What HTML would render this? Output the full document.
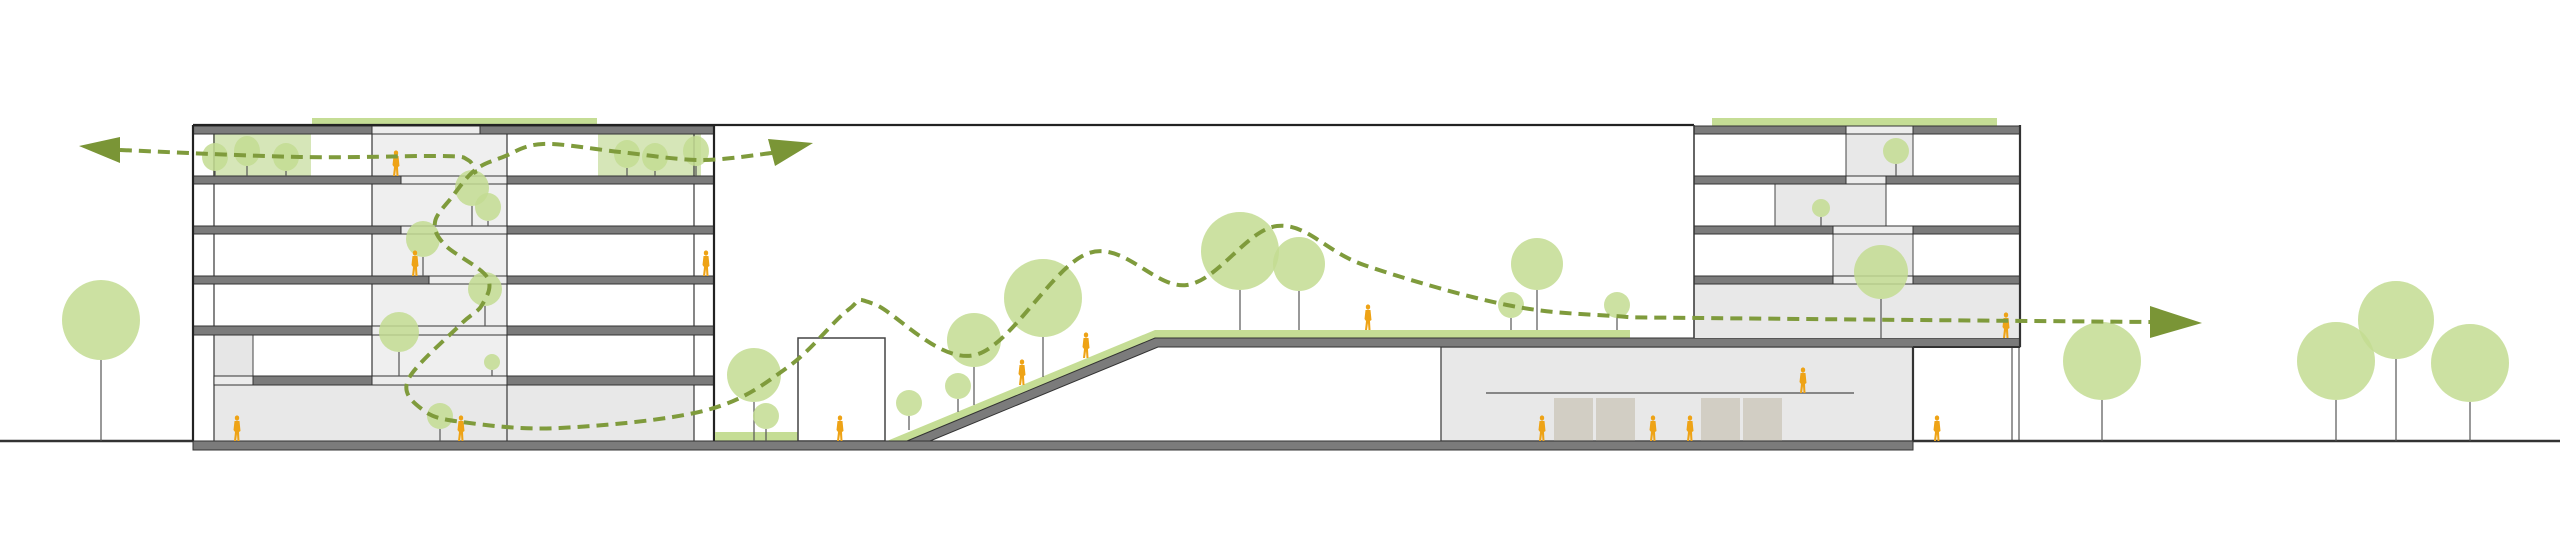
<!DOCTYPE html>
<html><head><meta charset="utf-8"><style>
html,body{margin:0;padding:0;background:#fff;width:2560px;height:557px;overflow:hidden}
svg{display:block}
</style></head><body>
<svg id="s" width="2560" height="557" viewBox="0 0 2560 557" xmlns="http://www.w3.org/2000/svg">
<defs>
<g id="p"><ellipse cx="0" cy="-23" rx="2.2" ry="2.6"/><path d="M-2.5,-20 L2.5,-20 L3.5,-10 L2,-9 L2.5,0 L0.5,0 L0,-7 L-1,0 L-3,0 L-2,-9 L-3.5,-11 Z"/></g>
</defs>
<g stroke="#333" stroke-width="2.5">
<line x1="0" y1="441" x2="193" y2="441"/>
<line x1="1913" y1="441" x2="2560" y2="441"/>
</g>
<rect x="312" y="118" width="285" height="8" fill="#c5dd95"/>
<rect x="372" y="134" width="135" height="251" fill="#efefef"/>
<rect x="214" y="385" width="480" height="56" fill="#e8e8e8"/>
<rect x="214" y="335" width="39" height="41" fill="#e6e6e6" stroke="#444" stroke-width="1"/>
<rect x="213" y="134" width="98" height="42" fill="#d6e6b8"/>
<rect x="598" y="134" width="103" height="42" fill="#d6e6b8"/>
<g stroke="#444" stroke-width="1.3" fill="none">
<line x1="214" y1="134" x2="214" y2="441"/><line x1="694" y1="134" x2="694" y2="441"/>
<line x1="372" y1="134" x2="372" y2="385"/><line x1="507" y1="134" x2="507" y2="441"/>
</g>
<g stroke="#333" stroke-width="1">
<rect x="193" y="126" width="179" height="8" fill="#7b7b7b"/><rect x="372" y="126" width="108" height="8" fill="#ececec"/><rect x="480" y="126" width="234" height="8" fill="#7b7b7b"/>
<rect x="193" y="176" width="208" height="8" fill="#7b7b7b"/><rect x="401" y="176" width="106" height="8" fill="#ececec"/><rect x="507" y="176" width="207" height="8" fill="#7b7b7b"/>
<rect x="193" y="226" width="208" height="8" fill="#7b7b7b"/><rect x="401" y="226" width="106" height="8" fill="#ececec"/><rect x="507" y="226" width="207" height="8" fill="#7b7b7b"/>
<rect x="193" y="276" width="236" height="8" fill="#7b7b7b"/><rect x="429" y="276" width="78" height="8" fill="#ececec"/><rect x="507" y="276" width="207" height="8" fill="#7b7b7b"/>
<rect x="193" y="326" width="179" height="9" fill="#7b7b7b"/><rect x="372" y="326" width="135" height="9" fill="#ececec"/><rect x="507" y="326" width="207" height="9" fill="#7b7b7b"/>
<rect x="214" y="376" width="39" height="9" fill="#ececec"/><rect x="253" y="376" width="119" height="9" fill="#7b7b7b"/><rect x="372" y="376" width="135" height="9" fill="#ececec"/><rect x="507" y="376" width="207" height="9" fill="#7b7b7b"/>
</g>
<g stroke="#222" stroke-width="2.2" fill="none">
<line x1="193" y1="125" x2="193" y2="441"/><line x1="714" y1="125" x2="714" y2="441"/>
<line x1="193" y1="125" x2="1694" y2="125"/>
</g>
<rect x="715" y="432" width="83" height="9" fill="#c5dd95"/>
<rect x="798" y="338" width="87" height="103" fill="none" stroke="#444" stroke-width="1.5"/>
<rect x="1441" y="347" width="472" height="94" fill="#e8e8e8" stroke="#444" stroke-width="1.3"/>
<line x1="1486" y1="393" x2="1854" y2="393" stroke="#666" stroke-width="1.5"/>
<g fill="#d2cec4"><rect x="1554" y="398" width="39" height="43"/><rect x="1596" y="398" width="39" height="43"/><rect x="1701" y="398" width="39" height="43"/><rect x="1743" y="398" width="39" height="43"/></g>
<polygon points="887,441 907,441 1155,339 1630,339 1630,330 1155,330" fill="#c5dd95"/>
<polygon points="907,441 930,441 1158,347 2020,347 2020,338 1155,338" fill="#7b7b7b" stroke="#333" stroke-width="1"/>
<rect x="1712" y="118" width="285" height="8" fill="#c5dd95"/>
<rect x="1846" y="134" width="67" height="42" fill="#e8e8e8" stroke="#444" stroke-width="1"/>
<rect x="1775" y="184" width="111" height="42" fill="#e8e8e8" stroke="#444" stroke-width="1"/>
<rect x="1833" y="234" width="80" height="42" fill="#e8e8e8" stroke="#444" stroke-width="1"/>
<rect x="1694" y="284" width="326" height="54" fill="#e8e8e8"/>
<g stroke="#333" stroke-width="1">
<rect x="1694" y="126" width="152" height="8" fill="#7b7b7b"/><rect x="1846" y="126" width="67" height="8" fill="#ececec"/><rect x="1913" y="126" width="107" height="8" fill="#7b7b7b"/>
<rect x="1694" y="176" width="152" height="8" fill="#7b7b7b"/><rect x="1846" y="176" width="40" height="8" fill="#ececec"/><rect x="1886" y="176" width="134" height="8" fill="#7b7b7b"/>
<rect x="1694" y="226" width="139" height="8" fill="#7b7b7b"/><rect x="1833" y="226" width="80" height="8" fill="#ececec"/><rect x="1913" y="226" width="107" height="8" fill="#7b7b7b"/>
<rect x="1694" y="276" width="139" height="8" fill="#7b7b7b"/><rect x="1833" y="276" width="80" height="8" fill="#ececec"/><rect x="1913" y="276" width="107" height="8" fill="#7b7b7b"/>
</g>
<g stroke="#333" fill="none">
<line x1="1694" y1="125" x2="1694" y2="338" stroke-width="1.5"/>
<line x1="2020" y1="125" x2="2020" y2="347" stroke-width="2.2"/>
<line x1="1913" y1="347" x2="1913" y2="441" stroke-width="2.2"/>
<line x1="1913" y1="347" x2="2020" y2="347" stroke-width="2"/>
<line x1="2012" y1="347" x2="2012" y2="441" stroke-width="1"/><line x1="2019" y1="347" x2="2019" y2="441" stroke-width="1"/>
</g>
<rect x="193" y="441" width="1720" height="9" fill="#7b7b7b" stroke="#333" stroke-width="1"/>
<g id="trees" fill="#c3dc92" fill-opacity="0.85" stroke="#555" stroke-width="1.2"></g>
<g fill="#eea316" id="ppl"></g>
<g fill="none" stroke="#7f9b3c" stroke-width="4" stroke-dasharray="12 7" id="paths"></g>
<g fill="#7a9536">
<polygon points="79,146 120,137 120,163"/>
<polygon points="813,143 768,139 775,166"/>
<polygon points="2202,323 2150,306 2150,338"/>
</g>
</svg>
<script>
var NS="http://www.w3.org/2000/svg";
var T=[[101,320,39,40,441],[2102,361,39,39,441],[2336,361,39,39,441],[2396,320,38,39,441],[2470,363,39,39,441],
[909,403,13,13,430],[958,386,13,13,412],[974,340,27,27,405],[1043,298,39,39,377],[1240,251,39,39,330],[1299,264,26,27,330],[1537,264,26,26,330],[1511,305,13,13,330],[1617,305,13,13,330],
[215,157,13,14,176],[247,151,13,15,176],[286,157,13,14,176],[627,154,13,14,176],[655,157,13,14,176],[696,151,13,15,176],
[472,188,17,18,226],[488,207,13,14,226],[423,239,17,18,276],[485,289,17,17,326],[399,332,20,20,376],[492,362,8,8,376],[440,416,13,13,441],
[754,375,27,27,441],[766,416,13,13,441],[1896,151,13,13,176],[1821,208,9,9,226],[1881,272,27,27,338]];
var g=document.getElementById('trees');
T.forEach(function(t){var l=document.createElementNS(NS,'line');l.setAttribute('x1',t[0]);l.setAttribute('x2',t[0]);l.setAttribute('y1',t[1]+t[3]);l.setAttribute('y2',t[4]);g.appendChild(l);});
T.forEach(function(t){var e=document.createElementNS(NS,'ellipse');e.setAttribute('cx',t[0]);e.setAttribute('cy',t[1]);e.setAttribute('rx',t[2]);e.setAttribute('ry',t[3]);e.setAttribute('stroke','none');g.appendChild(e);});
var P=[[396,176],[415,276],[706,276],[237,441],[461,441],[840,441],[1022,385],[1086,358],[1368,330],[1542,441],[1653,441],[1690,441],[1803,393],[2006,338],[1937,441]];
var pg=document.getElementById('ppl');
P.forEach(function(p){var u=document.createElementNS(NS,'use');u.setAttribute('href','#p');u.setAttribute('transform','translate('+p[0]+','+p[1]+')');pg.appendChild(u);});
function cr(pts){var d='M'+pts[0][0]+','+pts[0][1];for(var i=0;i<pts.length-1;i++){var p0=pts[i-1]||pts[i],p1=pts[i],p2=pts[i+1],p3=pts[i+2]||p2;
d+=' C'+(p1[0]+(p2[0]-p0[0])/6)+','+(p1[1]+(p2[1]-p0[1])/6)+' '+(p2[0]-(p3[0]-p1[0])/6)+','+(p2[1]-(p3[1]-p1[1])/6)+' '+p2[0]+','+p2[1];}return d;}
var S=[[772,153],[700,160],[620,152],[543,144],[503,157],[475,170],[452,197],[435,222],[445,245],[487,277],[482,305],[460,325],[408,380],[423,410],[462,422],[560,428],[707,410],[788,367],[848,310],[874,304],[975,355],[1089,253],[1187,285],[1277,226],[1364,265],[1507,305],[1614,316],[1700,318],[2150,322]];
var L=[[120,150],[300,157],[440,156],[468,160],[476,174]];
var pp=document.getElementById('paths');
[S,L].forEach(function(a){var p=document.createElementNS(NS,'path');p.setAttribute('d',cr(a));pp.appendChild(p);});
</script>
</body></html>
